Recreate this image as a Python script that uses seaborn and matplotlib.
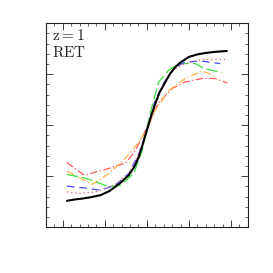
import numpy as np
import pandas as pd
import matplotlib
matplotlib.use("Agg")
import matplotlib.pyplot as plt
from matplotlib.ticker import MultipleLocator, NullFormatter
import seaborn as sns

# ---------- DATA ----------
x_black = [-1.9, -1.7, -1.5, -1.3, -1.1, -0.9, -0.75, -0.6, -0.43, -0.3, -0.19, -0.1, 0.0,
           0.1, 0.2, 0.3, 0.44, 0.55, 0.68, 0.8, 1.0, 1.2, 1.39, 1.6, 1.9]
y_black = [0.129, 0.136, 0.141, 0.148, 0.157, 0.176, 0.198, 0.222, 0.255, 0.295, 0.345, 0.405, 0.475,
           0.545, 0.606, 0.66, 0.712, 0.752, 0.786, 0.808, 0.835, 0.847, 0.854, 0.859, 0.864]

x_red = [-1.9, -1.49, -0.98, -0.5, -0.27, -0.03, 0.28, 0.6, 0.91, 1.31, 1.62, 1.91]
y_red = [0.317, 0.255, 0.283, 0.315, 0.377, 0.475, 0.61, 0.68, 0.712, 0.729, 0.729, 0.707]

x_orange = [-1.9, -1.49, -1.29, -0.9, -0.5, -0.19, 0.0, 0.2, 0.52, 0.91, 1.31, 1.5, 1.62]
y_orange = [0.275, 0.23, 0.21, 0.263, 0.34, 0.418, 0.475, 0.574, 0.67, 0.729, 0.765, 0.752, 0.737]

x_green = [-1.9, -1.49, -1.25, -0.9, -0.62, -0.31, -0.11, 0.08, 0.28, 0.52, 0.76, 1.15, 1.35, 1.78]
y_green = [0.258, 0.242, 0.225, 0.198, 0.206, 0.263, 0.377, 0.56, 0.712, 0.77, 0.802, 0.802, 0.778, 0.758]

x_blue = [-1.9, -1.52, -1.1, -0.75, -0.43, -0.19, 0.0, 0.2, 0.44, 0.68, 0.91, 1.31, 1.74]
y_blue = [0.201, 0.193, 0.181, 0.206, 0.263, 0.361, 0.475, 0.623, 0.72, 0.786, 0.81, 0.814, 0.802]

x_pink = [-1.9, -1.61, -1.22, -0.75, -0.43, -0.19, 0.0, 0.3, 0.6, 0.91, 1.31, 1.91]
y_pink = [0.173, 0.165, 0.173, 0.21, 0.263, 0.36, 0.475, 0.66, 0.77, 0.802, 0.822, 0.822]

# ---------- STYLE ----------
sns.set_style("ticks")
plt.rcParams["mathtext.fontset"] = "cm"

fig = plt.figure(figsize=(2.73, 2.73), dpi=100)
ax = fig.add_axes([0.168, 0.168, 0.740, 0.747])

series = [
    (x_red, y_red, "#ff5a5a", (0, (6, 2, 1, 2)), 0.9),
    (x_orange, y_orange, "#ffb347", (0, (6, 2, 1, 2)), 0.9),
    (x_green, y_green, "#3ee03e", (0, (9, 3)), 0.9),
    (x_blue, y_blue, "#4a4aff", (0, (6, 4)), 0.9),
    (x_pink, y_pink, "#d07c7c", (0, (1, 2)), 1.0),
    (x_black, y_black, "black", "-", 1.5),
]
for xs, ys, col, ls, lw in series:
    sns.lineplot(x=xs, y=ys, ax=ax, color=col, linestyle=ls, linewidth=lw,
                 sort=False, estimator=None)

ax.set_xlim(-2.4, 2.4)
ax.set_ylim(0, 1)
ax.xaxis.set_major_locator(MultipleLocator(1))
ax.xaxis.set_minor_locator(MultipleLocator(0.2))
ax.yaxis.set_major_locator(MultipleLocator(0.25))
ax.yaxis.set_minor_locator(MultipleLocator(0.05))
ax.xaxis.set_major_formatter(NullFormatter())
ax.yaxis.set_major_formatter(NullFormatter())
ax.tick_params(which="both", direction="in", top=True, right=True, color="#222222")
ax.tick_params(which="major", length=5, width=0.6)
ax.tick_params(which="minor", length=2.5, width=0.5)
for s in ax.spines.values():
    s.set_linewidth(0.8)
    s.set_color("#222222")

ax.text(0.03, 0.917, r"$\mathrm{z=1}$", transform=ax.transAxes, fontsize=11, color="#222222")
ax.text(0.03, 0.833, r"$\mathrm{RET}$", transform=ax.transAxes, fontsize=11, color="#222222")

plt.savefig("out.png", dpi=100)
